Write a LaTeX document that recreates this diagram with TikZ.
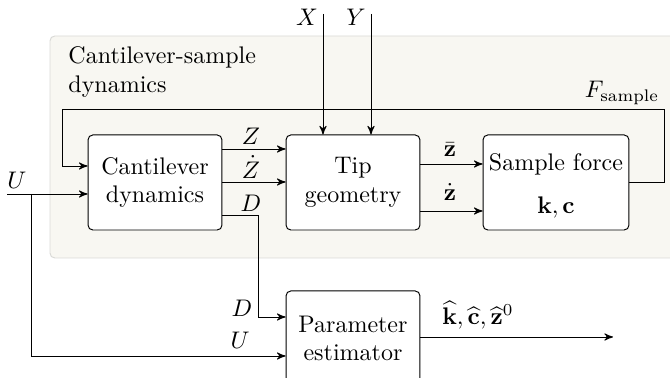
\documentclass[tikz,border=0pt]{standalone}
\usepackage{amsmath}
\usepackage{amssymb}
\usepackage{tikz}
\usetikzlibrary{arrows}

\definecolor{bgfill}{HTML}{F8F7F2}
\definecolor{bgline}{HTML}{D9D9D6}

\tikzset{
    block/.style={draw, fill=white, rounded corners=2pt, align=center,
        minimum width=55.8pt, minimum height=39.6pt, inner sep=2pt},
    sig/.style={->, >=stealth'},
    lbl/.style={inner sep=0pt},
}

\begin{document}
\begin{tikzpicture}[x=0.4167pt, y=-0.4167pt]

\useasboundingbox (0,0) rectangle (670,378);

% grey frame round the closed loop
\fill [bgfill, draw=bgline, rounded corners=2pt] (50,36) rectangle (700,258);
\node [anchor=north west, align=left, inner sep=0pt] (title) at (68,46)
    {Cantilever-sample\\dynamics};

% blocks
\node [block] (cd) at (155,182.5) {Cantilever\\dynamics};
\node [block] (tg) at (353,182.5) {Tip\\geometry};
\node [block, minimum width=60.8pt] (sf) at (556,182.5)
    {\rule{0pt}{10pt}Sample force\\[6pt] $\mathbf{k},\mathbf{c}$};
\node [block] (pe) at (353,338.5) {Parameter\\estimator};

% rows and corners of the wires
\coordinate (uin) at (7,194);
\coordinate (ubr) at (31,194);
\coordinate (yF)  at (0,166);
\coordinate (yZ)  at (0,149);
\coordinate (yZd) at (0,182);
\coordinate (yD)  at (0,215);
\coordinate (yzb) at (0,164);
\coordinate (yzd) at (0,211);
\coordinate (dbend) at (258,317);
\coordinate (yU2) at (0,356);
\coordinate (yout) at (0,337);
\coordinate (fbR) at (664,109);
\coordinate (fbL) at (62,109);
\coordinate (xtop) at (323,14);
\coordinate (ytop) at (371,14);
\coordinate (outend) at (613,337);

% input U and its branch to the estimator
\draw [sig] (uin) -- (cd.west |- uin);
\draw [sig] (ubr) |- (pe.west |- yU2);

% feedback of the sample force
\draw [sig] (sf.east) -| (fbR) -- (fbL) |- (cd.west |- yF);

% cantilever to tip geometry
\draw [sig] (cd.east |- yZ) -- (tg.west |- yZ);
\draw [sig] (cd.east |- yZd) -- (tg.west |- yZd);
\draw [sig] (cd.east |- yD) -| (dbend) -- (pe.west |- dbend);

% lateral position of the tip
\draw [sig] (xtop) -- (tg.north -| xtop);
\draw [sig] (ytop) -- (tg.north -| ytop);

% tip geometry to sample force
\draw [sig] (tg.east |- yzb) -- (sf.west |- yzb);
\draw [sig] (tg.east |- yzd) -- (sf.west |- yzd);

% estimates
\draw [sig] (pe.east |- yout) -- (outend);

% signal labels
\node [lbl] (lU)   at (17,180)  {$U$};
\node [lbl] (lX)   at (307,17)  {$X$};
\node [lbl] (lY)   at (356,17)  {$Y$};
\node [lbl] (lZ)   at (251,136) {$Z$};
\node [lbl] (lZd)  at (251,167) {$\dot{Z}$};
\node [lbl] (lD)   at (251,203) {$D$};
\node [lbl] (lzb)  at (450,150) {$\bar{\mathbf{z}}$};
\node [lbl] (lzd)  at (450,192) {$\dot{\mathbf{z}}$};
\node [lbl] (lF)   at (622,93)  {$F_{\text{sample}}$};
\node [lbl] (lD2)  at (242,308) {$D$};
\node [lbl] (lU2)  at (240,340) {$U$};
\node [lbl] (lout) at (478,315)
    {$\widehat{\mathbf{k}},\widehat{\mathbf{c}},\widehat{\mathbf{z}}^0$};

\end{tikzpicture}
\end{document}
